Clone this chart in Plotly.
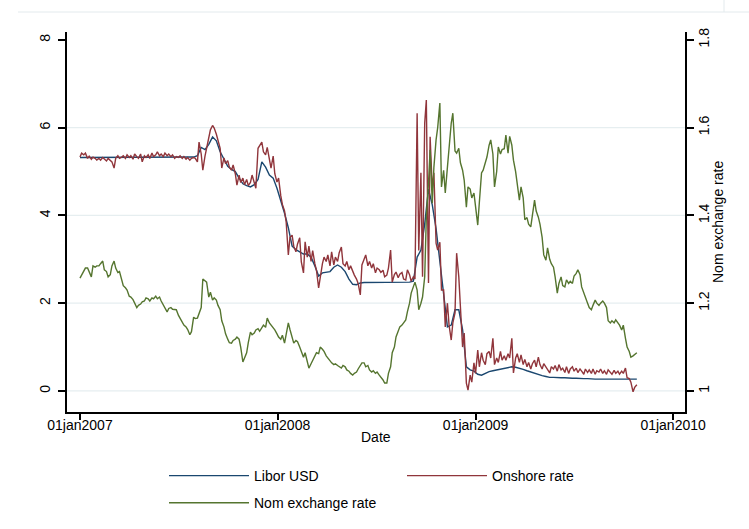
import pandas as pd
import plotly.graph_objects as go

# Observation dates: weekly (Mondays) and twice weekly (Mondays and Thursdays)
weekly_dates = pd.date_range("2007-01-01", "2009-10-26", freq="W-MON")
twice_weekly_dates = weekly_dates.union(
    pd.date_range("2007-01-01", "2009-10-26", freq="W-THU"))

# Libor USD (%), weekly
libor_usd = [
    5.32, 5.32, 5.32, 5.32, 5.32, 5.32, 5.32, 5.32, 5.32, 5.32,
    5.32, 5.32, 5.32, 5.32, 5.32, 5.32, 5.32, 5.32, 5.32, 5.32,
    5.32, 5.32, 5.32, 5.32, 5.32, 5.32, 5.32, 5.32, 5.32, 5.32,
    5.33, 5.36, 5.55, 5.50, 5.62, 5.79, 5.70, 5.45, 5.28, 5.12,
    5.05, 5.00, 4.85, 4.72, 4.68, 4.65, 4.70, 4.82, 5.22, 5.10,
    4.92, 4.85, 4.62, 4.35, 4.05, 3.72, 3.30, 3.22, 3.17, 3.12,
    3.12, 3.05, 2.85, 2.62, 2.69, 2.70, 2.72, 2.82, 2.87, 2.82,
    2.72, 2.55, 2.43, 2.42, 2.46, 2.47, 2.47, 2.47, 2.47, 2.47,
    2.47, 2.47, 2.47, 2.47, 2.47, 2.47, 2.48, 2.48, 2.50, 3.05,
    3.21, 3.80, 4.60, 4.24, 3.70, 2.95, 2.20, 1.46, 1.50, 1.85,
    1.85, 1.40, 0.55, 0.48, 0.45, 0.38, 0.36, 0.40, 0.44, 0.46,
    0.48, 0.50, 0.52, 0.53, 0.55, 0.54, 0.52, 0.49, 0.46, 0.43,
    0.41, 0.38, 0.35, 0.33, 0.31, 0.31, 0.30, 0.30, 0.30, 0.29,
    0.29, 0.29, 0.28, 0.28, 0.28, 0.27, 0.27, 0.27, 0.27, 0.27,
    0.27, 0.27, 0.27, 0.27, 0.27, 0.27, 0.27, 0.27,
]

# Onshore rate (%), twice weekly
onshore_rate = [
    5.33, 5.42, 5.38, 5.42, 5.30, 5.35, 5.28, 5.33, 5.30, 5.26,
    5.30, 5.26, 5.32, 5.28, 5.24, 5.30, 5.26, 5.22, 5.08, 5.30,
    5.36, 5.30, 5.33, 5.36, 5.30, 5.38, 5.32, 5.36, 5.28, 5.40,
    5.34, 5.30, 5.40, 5.22, 5.36, 5.32, 5.38, 5.30, 5.42, 5.34,
    5.38, 5.45, 5.36, 5.40, 5.34, 5.42, 5.36, 5.40, 5.34, 5.38,
    5.30, 5.34, 5.32, 5.36, 5.30, 5.34, 5.28, 5.32, 5.26, 5.30,
    5.32, 5.30, 5.22, 5.67, 5.40, 5.03, 5.35, 5.53, 5.80, 5.95,
    6.05, 5.99, 5.85, 5.70, 5.53, 5.08, 5.31, 5.18, 5.25, 5.10,
    5.03, 5.15, 4.95, 4.69, 4.92, 4.75, 4.85, 4.70, 4.82, 4.68,
    4.75, 4.92, 4.72, 4.62, 5.53, 5.60, 5.67, 5.45, 5.38, 5.55,
    5.30, 5.08, 5.35, 4.95, 4.76, 4.85, 4.45, 4.25, 4.10, 3.85,
    3.10, 3.50, 3.55, 3.30, 3.17, 3.35, 3.49, 2.94, 2.69, 3.40,
    3.05, 3.30, 2.95, 3.20, 2.90, 2.75, 2.35, 2.60, 2.90, 3.05,
    2.95, 3.10, 2.85, 3.17, 2.87, 3.05, 2.95, 3.15, 3.28, 2.90,
    2.85, 2.95, 2.76, 2.85, 2.70, 2.64, 2.55, 2.45, 2.19, 2.87,
    3.00, 3.10, 2.85, 2.95, 2.80, 2.90, 2.69, 2.80, 2.76, 2.70,
    2.75, 2.60, 2.64, 2.80, 3.21, 2.48, 2.65, 2.71, 2.58, 2.66,
    2.70, 2.55, 2.53, 2.76, 2.65, 2.50, 2.60, 2.55, 6.33, 3.20,
    4.97, 2.60, 6.10, 6.63, 2.46, 5.79, 4.60, 4.97, 3.37, 3.21,
    3.39, 2.30, 2.30, 1.46, 2.00, 1.50, 1.16, 1.55, 1.78, 3.14,
    2.60, 1.90, 1.00, 1.32, 0.18, 0.02, 0.36, 0.20, 0.64, 0.40,
    0.93, 0.55, 0.87, 0.70, 0.60, 0.85, 0.90, 0.75, 1.20, 0.60,
    0.75, 0.65, 0.90, 0.70, 0.80, 0.70, 0.85, 0.75, 1.20, 0.41,
    0.75, 0.85, 0.65, 0.82, 0.60, 0.72, 0.55, 0.65, 0.50, 0.62,
    0.70, 0.55, 0.77, 0.60, 0.50, 0.62, 0.55, 0.48, 0.41, 0.55,
    0.50, 0.58, 0.45, 0.60, 0.48, 0.52, 0.42, 0.55, 0.40, 0.50,
    0.55, 0.45, 0.52, 0.42, 0.50, 0.45, 0.38, 0.50, 0.42, 0.48,
    0.40, 0.50, 0.38, 0.46, 0.43, 0.50, 0.40, 0.46, 0.38, 0.48,
    0.42, 0.38, 0.47, 0.40, 0.45, 0.38, 0.45, 0.40, 0.52, 0.30,
    0.28, 0.20, -0.02, 0.08, 0.14,
]

# Nominal exchange rate, twice weekly (right axis)
nom_exchange_rate = [
    1.257, 1.265, 1.276, 1.280, 1.280, 1.272, 1.260, 1.285, 1.282, 1.285,
    1.285, 1.290, 1.296, 1.276, 1.272, 1.260, 1.265, 1.285, 1.296, 1.280,
    1.270, 1.272, 1.255, 1.240, 1.235, 1.230, 1.216, 1.214, 1.208, 1.200,
    1.190, 1.195, 1.198, 1.203, 1.205, 1.212, 1.210, 1.205, 1.212, 1.210,
    1.216, 1.210, 1.214, 1.205, 1.195, 1.190, 1.180, 1.188, 1.190, 1.186,
    1.185, 1.185, 1.172, 1.166, 1.155, 1.150, 1.146, 1.140, 1.128, 1.135,
    1.168, 1.165, 1.166, 1.175, 1.190, 1.255, 1.250, 1.248, 1.214, 1.225,
    1.207, 1.212, 1.207, 1.195, 1.185, 1.160, 1.146, 1.130, 1.118, 1.110,
    1.109, 1.115, 1.118, 1.123, 1.118, 1.100, 1.066, 1.075, 1.087, 1.110,
    1.134, 1.128, 1.132, 1.139, 1.142, 1.136, 1.144, 1.150, 1.145, 1.166,
    1.155, 1.150, 1.145, 1.139, 1.130, 1.123, 1.118, 1.127, 1.109, 1.130,
    1.155, 1.140, 1.123, 1.109, 1.115, 1.112, 1.100, 1.090, 1.077, 1.087,
    1.070, 1.052, 1.062, 1.070, 1.080, 1.087, 1.085, 1.100, 1.095, 1.090,
    1.080, 1.075, 1.070, 1.064, 1.060, 1.062, 1.058, 1.055, 1.052, 1.058,
    1.055, 1.048, 1.045, 1.040, 1.036, 1.040, 1.043, 1.050, 1.058, 1.064,
    1.064, 1.055, 1.058, 1.048, 1.043, 1.046, 1.040, 1.043, 1.036, 1.032,
    1.025, 1.018, 1.018, 1.040, 1.055, 1.087, 1.100, 1.123, 1.135, 1.146,
    1.150, 1.155, 1.162, 1.180, 1.200, 1.223, 1.240, 1.248, 1.230, 1.185,
    1.200, 1.214, 1.260, 1.396, 1.474, 1.549, 1.428, 1.510, 1.572, 1.600,
    1.656, 1.465, 1.503, 1.451, 1.510, 1.556, 1.610, 1.633, 1.547, 1.542,
    1.553, 1.520, 1.503, 1.480, 1.419, 1.465, 1.460, 1.440, 1.451, 1.420,
    1.378, 1.430, 1.497, 1.503, 1.520, 1.533, 1.560, 1.572, 1.540, 1.465,
    1.500, 1.556, 1.540, 1.550, 1.552, 1.583, 1.542, 1.580, 1.560, 1.526,
    1.500, 1.474, 1.435, 1.465, 1.440, 1.390, 1.395, 1.380, 1.374, 1.400,
    1.435, 1.410, 1.396, 1.380, 1.350, 1.310, 1.298, 1.326, 1.300, 1.290,
    1.282, 1.260, 1.223, 1.245, 1.260, 1.240, 1.237, 1.253, 1.245, 1.250,
    1.245, 1.262, 1.268, 1.276, 1.265, 1.237, 1.225, 1.214, 1.200, 1.190,
    1.185, 1.195, 1.207, 1.200, 1.195, 1.200, 1.205, 1.200, 1.190, 1.160,
    1.155, 1.160, 1.155, 1.162, 1.155, 1.150, 1.139, 1.150, 1.120, 1.100,
    1.090, 1.077, 1.080, 1.083, 1.087,
]

x_tick_dates = ["2007-01-01", "2008-01-01", "2009-01-01", "2010-01-01"]
x_tick_labels = ["01jan2007", "01jan2008", "01jan2009", "01jan2010"]
left_ticks = [0, 2, 4, 6, 8]
right_ticks = [1, 1.2, 1.4, 1.6, 1.8]
right_tick_labels = ["1", "1.2", "1.4", "1.6", "1.8"]

NAVY = "#1a476f"
MAROON = "#90353b"
GREEN = "#55752f"
GRID = "#e6eef0"
FONT = "Liberation Sans, Arial, sans-serif"

# plot-area geometry in pixels (used for title placement)
W, H = 749, 529
L, R, T, B = 67, 64, 32, 117
PW, PH = W - L - R, H - T - B

fig = go.Figure()
fig.add_trace(go.Scatter(
    x=weekly_dates, y=libor_usd, name="Libor USD", mode="lines",
    line=dict(color=NAVY, width=1.4), legend="legend", legendgroup="a"))
fig.add_trace(go.Scatter(
    x=twice_weekly_dates, y=onshore_rate, name="Onshore rate", mode="lines",
    line=dict(color=MAROON, width=1.4), legend="legend2", legendgroup="b"))
fig.add_trace(go.Scatter(
    x=twice_weekly_dates, y=nom_exchange_rate, name="Nom exchange rate", mode="lines",
    yaxis="y2", line=dict(color=GREEN, width=1.4), legend="legend", legendgroup="c"))

# horizontal grid lines at the left-axis labels below the top one
shapes = [
    dict(type="line", xref="paper", x0=0, x1=1, yref="y", y0=v, y1=v,
         line=dict(color=GRID, width=1.2), layer="below")
    for v in left_ticks[:-1]
]
# faint outer frame of the graph region
frame = "#e3eaed"
shapes += [
    dict(type="line", xref="paper", yref="paper", x0=-49 / PW, x1=(W - L) / PW,
         y0=(PH + T - 12) / PH, y1=(PH + T - 12) / PH, line=dict(color=frame, width=1)),
    dict(type="line", xref="paper", yref="paper", x0=(724 - L) / PW, x1=(724 - L) / PW,
         y0=(PH + T - 12) / PH, y1=(PH + T) / PH, line=dict(color=frame, width=1)),
]

# axis titles
annotations = [
    dict(text="Date", xref="paper", yref="paper", x=0.5, y=-(437 - T - PH) / PH,
         xanchor="center", yanchor="middle", showarrow=False,
         font=dict(family=FONT, size=14, color="black")),
    dict(text="Nom exchange rate", xref="paper", yref="paper",
         x=(718 - L) / PW, y=0.5, xanchor="center", yanchor="middle",
         textangle=-90, showarrow=False,
         font=dict(family=FONT, size=14, color="black")),
]

axis_common = dict(
    showline=True, linecolor="black", linewidth=1.5,
    ticks="outside", tickcolor="black", tickwidth=1.5,
    tickfont=dict(family=FONT, size=14, color="black"),
    zeroline=False, automargin=False,
)

fig.update_layout(
    width=W, height=H,
    margin=dict(l=L, r=R, t=T, b=B, autoexpand=False),
    paper_bgcolor="white", plot_bgcolor="white",
    font=dict(family=FONT, size=14, color="black"),
    shapes=shapes, annotations=annotations,
    xaxis=dict(
        type="date", range=["2006-12-08", "2010-01-23"],
        tickmode="array", tickvals=x_tick_dates, ticktext=x_tick_labels,
        tickangle=0, ticklen=6, showgrid=False, ticklabelstandoff=-7,
        **axis_common),
    yaxis=dict(
        range=[-0.48, 8.18], tickmode="array", tickvals=left_ticks,
        tickangle=-90, ticklen=7, showgrid=False, ticklabelstandoff=3,
        **axis_common),
    yaxis2=dict(
        overlaying="y", side="right", range=[0.952, 1.818],
        tickmode="array", tickvals=right_ticks, ticktext=right_tick_labels,
        tickangle=-90, ticklen=7, showgrid=False, ticklabelstandoff=-2,
        **axis_common),
    legend=dict(
        xref="container", yref="container", x=164 / W, y=1 - 460 / H,
        xanchor="left", yanchor="top", orientation="v",
        traceorder="grouped", tracegroupgap=6, itemwidth=80,
        font=dict(family=FONT, size=14, color="black"), bgcolor="rgba(0,0,0,0)"),
    legend2=dict(
        xref="container", yref="container", x=402 / W, y=1 - 460 / H,
        xanchor="left", yanchor="top", orientation="v", itemwidth=80,
        font=dict(family=FONT, size=14, color="black"), bgcolor="rgba(0,0,0,0)"),
)

fig.write_html("out.html")
